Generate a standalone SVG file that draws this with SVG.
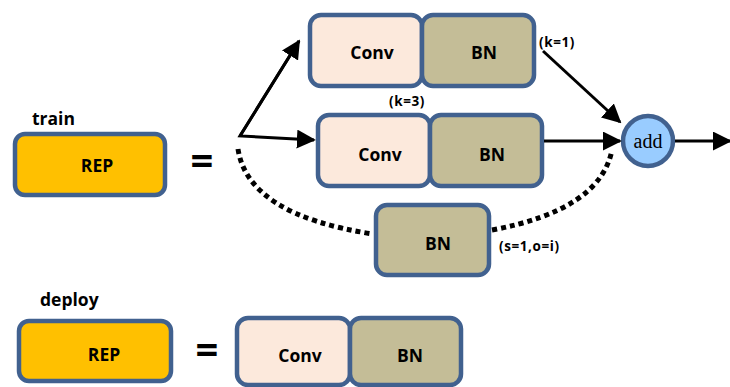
<svg xmlns="http://www.w3.org/2000/svg" width="730" height="387" viewBox="0 0 730 387">
<style>
.box{stroke:#41618F;stroke-width:4.5}
.rep{fill:#FFC000}
.conv{fill:#FCE9DC}
.bn{fill:#C4BD97}
.t{font-family:"Open Sans","Liberation Sans",sans-serif;font-weight:bold;fill:#000}
.lbl{font-size:17.5px}
.small{font-size:13.5px;letter-spacing:0.6px}
.eq{font-size:40px}
.ln{stroke:#000;stroke-width:3;fill:none}
.dot{stroke:#000;stroke-width:5;fill:none;stroke-dasharray:5 4}
</style>
<defs>
<marker id="ahb" viewBox="0 0 10 10" refX="9" refY="5" markerWidth="19" markerHeight="19" markerUnits="userSpaceOnUse" orient="auto">
<path d="M0,0 L10,5 L0,10 z" fill="#000"/>
</marker>
</defs>

<text class="t lbl" x="32" y="125">train</text>
<g id="rep-train">
<rect class="box rep" x="15" y="134" width="150" height="61" rx="10"/>
<text class="t lbl" x="97" y="172" text-anchor="middle">REP</text>
</g>
<text class="t eq" x="202" y="175" text-anchor="middle">=</text>

<g id="conv1">
<rect class="box conv" x="310" y="15" width="112" height="71" rx="11"/>
<text class="t lbl" x="372" y="59" text-anchor="middle">Conv</text>
</g>
<g id="bn1">
<rect class="box bn" x="422" y="15" width="112" height="71" rx="11"/>
<text class="t lbl" x="484" y="59" text-anchor="middle">BN</text>
</g>
<text class="t small" x="539" y="47">(k=1)</text>

<g id="conv3">
<rect class="box conv" x="318" y="115" width="112" height="71" rx="11"/>
<text class="t lbl" x="380" y="161" text-anchor="middle">Conv</text>
</g>
<g id="bn3">
<rect class="box bn" x="430" y="115" width="112" height="71" rx="11"/>
<text class="t lbl" x="492" y="161" text-anchor="middle">BN</text>
</g>
<text class="t small" x="389" y="106">(k=3)</text>

<g id="bn-id">
<rect class="box bn" x="376" y="205" width="113" height="70" rx="11"/>
<text class="t lbl" x="438" y="250" text-anchor="middle">BN</text>
</g>
<text class="t small" x="499" y="251">(s=1,o=i)</text>

<g id="add">
<circle cx="648" cy="141" r="25" fill="#99CCFF" stroke="#41618F" stroke-width="4.5"/>
<text x="648" y="148" text-anchor="middle" font-family="'Liberation Serif',serif" font-size="20" fill="#000">add</text>
</g>

<text class="t lbl" x="40" y="306">deploy</text>
<g id="rep-deploy">
<rect class="box rep" x="19" y="321" width="152" height="60" rx="10"/>
<text class="t lbl" x="104" y="361" text-anchor="middle">REP</text>
</g>
<text class="t eq" x="207" y="364" text-anchor="middle">=</text>
<g id="conv-deploy">
<rect class="box conv" x="237" y="318" width="113" height="67" rx="11"/>
<text class="t lbl" x="300" y="362" text-anchor="middle">Conv</text>
</g>
<g id="bn-deploy">
<rect class="box bn" x="350" y="318" width="111" height="67" rx="11"/>
<text class="t lbl" x="410" y="362" text-anchor="middle">BN</text>
</g>

<g id="connectors">
<polyline class="ln" points="299,41 240,136 314,140" marker-end="url(#ahb)"/>
<path class="ln" d="M240,136 L299,41" marker-end="url(#ahb)"/>
<path class="ln" d="M543,51 L620,122" marker-end="url(#ahb)"/>
<path class="ln" d="M544,141 L620,141" marker-end="url(#ahb)"/>
<path class="ln" d="M675,141 L730,141" marker-end="url(#ahb)"/>
<path class="dot" d="M238,149 Q248,215 373,234"/>
<path class="dot" d="M492,230 Q600,210 612,150"/>
</g>
</svg>
